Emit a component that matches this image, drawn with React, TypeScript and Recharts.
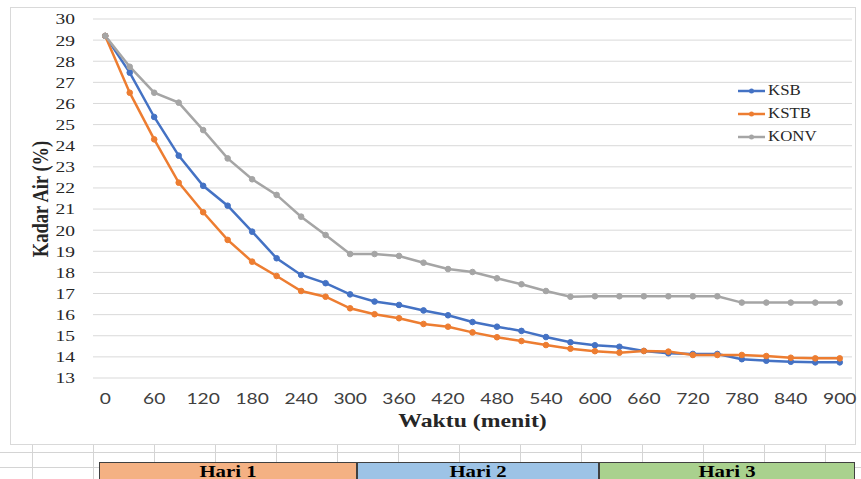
import { CartesianGrid, Label, Legend, Line, LineChart, XAxis, YAxis } from "recharts"

const minutes = [
  0, 30, 60, 90, 120, 150, 180, 210, 240, 270, 300, 330, 360, 390, 420, 450,
  480, 510, 540, 570, 600, 630, 660, 690, 720, 750, 780, 810, 840, 870, 900,
]
const ksb = [
  29.2, 27.46, 25.36, 23.53, 22.1, 21.16, 19.93, 18.67, 17.88, 17.49, 16.96,
  16.62, 16.46, 16.2, 15.97, 15.65, 15.43, 15.23, 14.94, 14.69, 14.55, 14.48,
  14.28, 14.17, 14.14, 14.14, 13.89, 13.82, 13.77, 13.74, 13.74,
]
const kstb = [
  29.2, 26.51, 24.3, 22.25, 20.85, 19.54, 18.51, 17.83, 17.12, 16.85, 16.3,
  16.02, 15.83, 15.56, 15.43, 15.16, 14.93, 14.75, 14.56, 14.39, 14.27, 14.2,
  14.28, 14.25, 14.09, 14.09, 14.09, 14.04, 13.96, 13.93, 13.93,
]
const konv = [
  29.2, 27.74, 26.51, 26.04, 24.74, 23.4, 22.41, 21.67, 20.64, 19.77, 18.87,
  18.87, 18.78, 18.46, 18.16, 18.02, 17.72, 17.44, 17.12, 16.85, 16.87, 16.87,
  16.87, 16.87, 16.87, 16.87, 16.57, 16.57, 16.57, 16.57, 16.57,
]
const xTicks = [0, 60, 120, 180, 240, 300, 360, 420, 480, 540, 600, 660, 720, 780, 840, 900]
const yTicks = [13, 14, 15, 16, 17, 18, 19, 20, 21, 22, 23, 24, 25, 26, 27, 28, 29, 30]

const series = [
  { key: "KSB", values: ksb, color: "#4472C4" },
  { key: "KSTB", values: kstb, color: "#ED7D31" },
  { key: "KONV", values: konv, color: "#A5A5A5" },
]

const days = [
  { label: "Hari 1", left: 99, right: 357, fill: "#F4B183" },
  { label: "Hari 2", left: 357, right: 599, fill: "#9DC3E6" },
  { label: "Hari 3", left: 599, right: 855, fill: "#A9D18E" },
]

const data = minutes.map((m, i) => ({
  min: m,
  KSB: ksb[i],
  KSTB: kstb[i],
  KONV: konv[i],
}))

const serif = "Liberation Serif"
// the source screenshot is stretched sideways, so text is widened a bit
const stretch = 1.25

function XTick({ x, y, payload }: any) {
  return (
    <text
      transform={`translate(${x},${y}) scale(1.2,1)`}
      textAnchor="middle"
      dy="0.71em"
      fontFamily="Lato, sans-serif"
      fontSize={16}
      fill="#404040"
    >
      {payload.value}
    </text>
  )
}

function YTick({ x, y, payload }: any) {
  return (
    <text
      transform={`translate(${x},${y}) scale(1.3,1)`}
      textAnchor="end"
      dy="0.36em"
      fontFamily={serif}
      fontSize={15}
      fill="#262626"
    >
      {payload.value}
    </text>
  )
}

function LegendBox() {
  return (
    <div style={{ fontFamily: serif, fontSize: 14, color: "#262626" }}>
      {series.map((s) => (
        <div key={s.key} style={{ display: "flex", alignItems: "center", height: 23 }}>
          <svg width={28} height={10}>
            <line x1={0} y1={5} x2={27} y2={5} stroke={s.color} strokeWidth={2.5} />
            <circle cx={13.5} cy={5} r={2.5} fill={s.color} />
          </svg>
          <span
            style={{
              marginLeft: 2,
              display: "inline-block",
              transform: "scaleX(1.2)",
              transformOrigin: "left center",
            }}
          >
            {s.key}
          </span>
        </div>
      ))}
    </div>
  )
}

const sheetCols = [32, 93, 154, 215, 276, 337, 398, 459, 520, 581, 642, 703, 764, 825]

export default function App() {
  return (
    <div
      style={{
        position: "absolute",
        left: 0,
        top: 0,
        width: 861,
        height: 479,
        overflow: "hidden",
        background: "#fff",
      }}
    >
      {/* spreadsheet cells behind the chart */}
      <div style={{ position: "absolute", left: 0, top: 452, width: 861, height: 1, background: "#d4d4d4" }} />
      <div style={{ position: "absolute", left: 0, top: 467, width: 861, height: 1, background: "#d4d4d4" }} />
      {sheetCols.map((x) => (
        <div
          key={x}
          style={{ position: "absolute", left: x, top: 444, width: 1, height: 35, background: "#d4d4d4" }}
        />
      ))}

      <div
        style={{
          position: "absolute",
          left: 10,
          top: 7,
          width: 844,
          height: 436,
          border: "1px solid #d9d9d9",
        }}
      />

      <div style={{ position: "absolute", left: 0, top: 0 }}>
        <LineChart
          width={861}
          height={445}
          data={data}
          margin={{ top: 19, right: 9, bottom: 0, left: 10 }}
        >
          <CartesianGrid vertical={false} stroke="#d9d9d9" strokeWidth={1} />
          <XAxis
            dataKey="min"
            type="number"
            domain={[-15, 915]}
            ticks={xTicks}
            interval={0}
            tickLine={false}
            axisLine={false}
            tickSize={0}
            tickMargin={15}
            height={67}
            tick={<XTick />}
          >
            <Label
              content={({ viewBox }: any) => {
                const cx = viewBox.x + viewBox.width / 2
                return (
                  <text
                    transform={`translate(${cx},421) scale(${stretch},1)`}
                    textAnchor="middle"
                    dominantBaseline="central"
                    fontFamily={serif}
                    fontWeight={700}
                    fontSize={19}
                    fill="#262626"
                  >
                    Waktu (menit)
                  </text>
                )
              }}
            />
          </XAxis>
          <YAxis
            domain={[13, 30]}
            ticks={yTicks}
            interval={0}
            tickLine={false}
            axisLine={false}
            tickSize={0}
            tickMargin={18}
            width={83}
            tick={<YTick />}
          >
            <Label
              content={() => (
                <text
                  transform={`translate(40,199) rotate(-90) scale(1,${stretch})`}
                  textAnchor="middle"
                  dominantBaseline="central"
                  fontFamily={serif}
                  fontWeight={700}
                  fontSize={18.5}
                  fill="#262626"
                >
                  Kadar Air (%)
                </text>
              )}
            />
          </YAxis>
          <Legend
            layout="horizontal"
            verticalAlign="middle"
            align="center"
            content={() => <LegendBox />}
            wrapperStyle={{ position: "absolute", left: 738, top: 79, width: 110 }}
          />
          {series.map((s) => (
            <Line
              key={s.key}
              dataKey={s.key}
              stroke={s.color}
              strokeWidth={2.5}
              dot={{ r: 2.8, fill: s.color, stroke: s.color, strokeWidth: 1 }}
              isAnimationActive={false}
            />
          ))}
        </LineChart>
      </div>

      {days.map((d) => (
        <div
          key={d.label}
          style={{
            position: "absolute",
            left: d.left,
            top: 462,
            width: d.right - d.left - 2,
            height: 17,
            background: d.fill,
            border: "1px solid #404040",
            borderBottom: "none",
            fontFamily: serif,
            fontWeight: 700,
            fontSize: 16,
            color: "#000",
            textAlign: "center",
            lineHeight: "18px",
          }}
        >
          <span style={{ display: "inline-block", transform: `scaleX(${stretch + 0.05})` }}>
            {d.label}
          </span>
        </div>
      ))}
    </div>
  )
}
